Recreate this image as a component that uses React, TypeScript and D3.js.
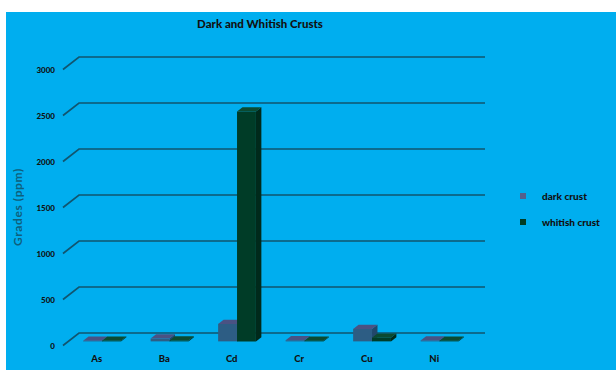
import React from "react";
import * as d3 from "d3";

const categories = ["As", "Ba", "Cd", "Cr", "Cu", "Ni"];
const seriesNames = ["dark crust", "whitish crust"];
const darkCrust = [6, 30, 190, 12, 135, 10];
const whitishCrust = [6, 10, 2500, 8, 40, 8];
const yTicks = [0, 500, 1000, 1500, 2000, 2500, 3000];

const W = 616;
const H = 370;

// 3D floor depth offsets (front plane -> back wall)
const DEPTH_DX = 16;
const DEPTH_DY = -12.5;
const BAR_Z0 = 0.33;
const BAR_Z1 = 0.67;

const palette = [
  { front: "#2d5d84", top: "#4a5283", side: "#22476a", legend: "#55608c" },
  { front: "#003c27", top: "#0b4a31", side: "#002a1b", legend: "#013d26" },
];

export default function App() {
  const x = d3
    .scaleBand<string>()
    .domain(categories)
    .range([63, 468])
    .paddingInner(0.44)
    .paddingOuter(0.22);
  const xSub = d3
    .scaleBand<string>()
    .domain(seriesNames)
    .range([0, x.bandwidth()]);
  const y = d3.scaleLinear().domain([0, 3000]).range([345.5, 69.5]);

  const P = (px: number, v: number, z: number): [number, number] => [
    px + DEPTH_DX * z,
    y(v) + DEPTH_DY * z,
  ];
  const pts = (arr: [number, number][]) => arr.map((p) => p.join(",")).join(" ");

  const seriesValues = [darkCrust, whitishCrust];

  const bars: React.ReactNode[] = [];
  categories.forEach((cat, ci) => {
    seriesNames.forEach((s, si) => {
      const v = seriesValues[si][ci];
      const x0 = (x(cat) ?? 0) + (xSub(s) ?? 0);
      const x1 = x0 + xSub.bandwidth();
      const c = palette[si];
      const front = [P(x0, 0, BAR_Z0), P(x1, 0, BAR_Z0), P(x1, v, BAR_Z0), P(x0, v, BAR_Z0)];
      const top = [P(x0, v, BAR_Z0), P(x1, v, BAR_Z0), P(x1, v, BAR_Z1), P(x0, v, BAR_Z1)];
      const side = [P(x1, 0, BAR_Z0), P(x1, v, BAR_Z0), P(x1, v, BAR_Z1), P(x1, 0, BAR_Z1)];
      bars.push(
        <g key={`${cat}-${s}`}>
          <polygon points={pts(side)} fill={c.side} />
          <polygon points={pts(front)} fill={c.front} />
          <polygon points={pts(top)} fill={c.top} />
        </g>
      );
    });
  });

  const font = "Lato, 'Liberation Sans', sans-serif";

  return (
    <svg
      width={W}
      height={H}
      style={{ position: "absolute", left: 0, top: 0 }}
      fontFamily={font}
    >
      <rect x={0} y={0} width={W} height={H} fill="#ffffff" />
      <rect x={6} y={12} width={W - 6} height={H - 12} fill="#00aeef" />

      <text x={260} y={28} textAnchor="middle" fontSize={11.5} fontWeight="900" fill="#111">
        Dark and Whitish Crusts
      </text>

      {/* gridlines: short floor diagonal then back-wall line */}
      {yTicks.map((t) => {
        const a = P(63, t, 0);
        const b = P(63, t, 1);
        const c: [number, number] = [485, b[1]];
        return (
          <g key={t}>
            <polyline
              points={pts([a, b, c])}
              fill="none"
              stroke="#11556f"
              strokeWidth={1.7}
            />
            <text
              x={55}
              y={a[1] + 3}
              textAnchor="end"
              fontSize={8}
              fontWeight="900"
              fill="#111"
            >
              {t}
            </text>
          </g>
        );
      })}

      <text
        transform="translate(22,207) rotate(-90)"
        textAnchor="middle"
        fontSize={12}
        fontWeight="bold"
        letterSpacing={0.6}
        fill="#0f5f7c"
      >
        Grades  (ppm)
      </text>

      {bars}

      {categories.map((cat) => (
        <text
          key={cat}
          x={(x(cat) ?? 0) + x.bandwidth() / 2}
          y={362}
          textAnchor="middle"
          fontSize={9.5}
          fontWeight="900"
          fill="#111"
        >
          {cat}
        </text>
      ))}

      {seriesNames.map((s, i) => (
        <g key={s} transform={`translate(520,${193 + i * 26})`}>
          <rect x={0} y={0} width={6} height={6} fill={palette[i].legend} />
          <text x={22} y={6.5} fontSize={10} fontWeight="900" fill="#111">
            {s}
          </text>
        </g>
      ))}
    </svg>
  );
}
